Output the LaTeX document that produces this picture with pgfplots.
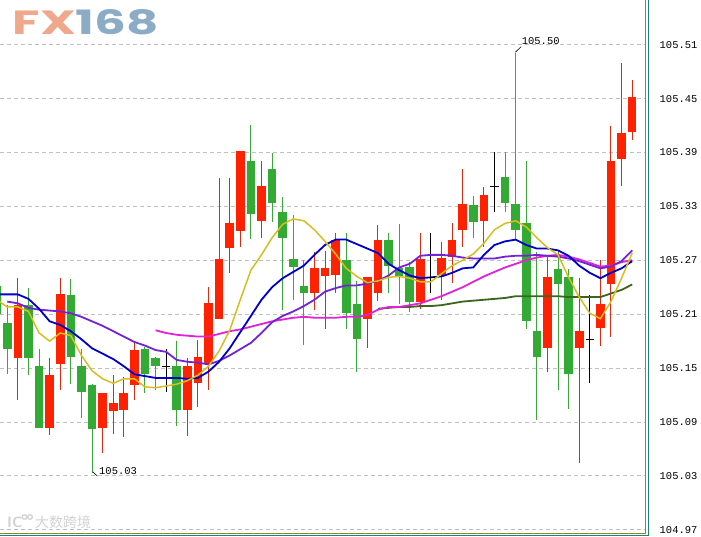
\documentclass[border=0pt]{standalone}
\usepackage{pgfplots}
\pgfplotsset{compat=1.18}
\usepackage{pgfplotstable}
\usepackage{fontspec}
\setmainfont{Liberation Sans}
\newfontfamily\monofont{Liberation Mono}
\newfontfamily\logofont{Poppins}
\newfontfamily\cjk{Noto Sans CJK SC}

\definecolor{redbody}{RGB}{255,34,0}
\definecolor{redwick}{RGB}{215,45,20}
\definecolor{greenbody}{RGB}{51,170,51}
\definecolor{greenwick}{RGB}{60,165,60}
\definecolor{maBlue}{RGB}{0,0,200}
\definecolor{maYellow}{RGB}{215,190,30}
\definecolor{maPurple}{RGB}{115,35,210}
\definecolor{maMagenta}{RGB}{225,35,215}
\definecolor{maDkgreen}{RGB}{60,100,30}
\definecolor{gridgray}{RGB}{192,192,192}
\definecolor{borderolive}{RGB}{140,135,40}
\definecolor{borderteal}{RGB}{30,130,120}
\definecolor{logoSalmon}{RGB}{240,168,140}
\definecolor{logoBlue}{RGB}{140,172,198}

% x o h l c
\pgfplotstableread{
x o h l c
2 105.163 105.251 105.115 105.222
5 105.084 105.162 105.076 105.143
6 105.154 105.251 105.126 105.232
10 105.084 105.123 105.056 105.123
11 105.104 105.142 105.076 105.113
12 105.104 105.142 105.075 105.123
13 105.133 105.180 105.115 105.172
18 105.104 105.162 105.075 105.153
19 105.134 105.182 105.107 105.163
20 105.154 105.241 105.126 105.222
21 105.205 105.362 105.205 105.272
22 105.285 105.362 105.256 105.313
23 105.303 105.392 105.285 105.392
25 105.314 105.382 105.296 105.353
30 105.234 105.281 105.216 105.262
31 105.254 105.281 105.195 105.262
32 105.254 105.301 105.234 105.293
35 105.205 105.252 105.173 105.252
36 105.234 105.311 105.226 105.293
40 105.224 105.301 105.216 105.272
42 105.254 105.291 105.226 105.272
43 105.274 105.311 105.245 105.293
44 105.304 105.372 105.285 105.333
46 105.314 105.352 105.285 105.343
52 105.173 105.276 105.146 105.252
55 105.173 105.251 105.045 105.192
57 105.195 105.271 105.175 105.222
58 105.244 105.421 105.185 105.382
59 105.383 105.491 105.354 105.412
60 105.413 105.471 105.404 105.452
}\redtab

\pgfplotstableread{
x o h l c
0 105.242 105.242 105.176 105.211
1 105.202 105.221 105.144 105.173
3 105.222 105.241 105.144 105.163
4 105.153 105.172 105.084 105.084
7 105.232 105.251 105.134 105.163
8 105.153 105.172 105.095 105.124
9 105.133 105.133 105.034 105.084
14 105.172 105.175 105.124 105.144
15 105.163 105.163 105.127 105.154
17 105.153 105.182 105.087 105.104
24 105.382 105.421 105.294 105.323
26 105.372 105.391 105.314 105.334
27 105.323 105.342 105.216 105.294
28 105.272 105.321 105.226 105.264
29 105.242 105.271 105.176 105.234
33 105.272 105.301 105.195 105.213
34 105.222 105.247 105.146 105.183
37 105.293 105.301 105.235 105.264
38 105.262 105.311 105.222 105.254
39 105.262 105.268 105.212 105.224
45 105.333 105.342 105.295 105.314
48 105.363 105.392 105.325 105.334
49 105.333 105.502 105.295 105.304
50 105.313 105.382 105.195 105.203
51 105.192 105.281 105.094 105.163
53 105.262 105.281 105.126 105.245
54 105.252 105.261 105.105 105.144
}\greentab

\pgfplotstableread{
x o h l c
16 105.152 105.172 105.124 105.152
41 105.251 105.301 105.234 105.251
47 105.352 105.392 105.325 105.352
56 105.182 105.231 105.133 105.182
}\blacktab

\pgfplotstableread{
x yel blu pur mag dkg
0 105.226 105.232 nan nan nan
1 105.218 105.232 105.224 nan nan
2 105.218 105.232 105.222 nan nan
3 105.213 105.227 105.217 nan nan
4 105.189 105.216 105.215 nan nan
5 105.180 105.202 105.214 nan nan
6 105.189 105.198 105.213 nan nan
7 105.186 105.191 105.211 nan nan
8 105.164 105.182 105.207 nan nan
9 105.147 105.172 105.202 nan nan
10 105.138 105.166 105.197 nan nan
11 105.133 105.160 105.191 nan nan
12 105.138 105.152 105.185 nan nan
13 105.138 105.143 105.179 nan nan
14 105.129 105.141 105.175 nan nan
15 105.128 105.139 105.170 105.192 nan
16 105.130 105.139 105.168 105.189 nan
17 105.132 105.139 105.159 105.187 nan
18 105.136 105.138 105.157 105.186 nan
19 105.142 105.139 105.156 105.185 nan
20 105.152 105.146 105.154 105.185 nan
21 105.169 105.157 105.158 105.188 nan
22 105.192 105.172 105.164 105.191 nan
23 105.226 105.190 105.171 105.193 nan
24 105.259 105.208 105.178 105.196 nan
25 105.276 105.226 105.189 105.199 nan
26 105.295 105.240 105.201 105.202 nan
27 105.310 105.250 105.208 105.204 nan
28 105.316 105.257 105.213 105.206 nan
29 105.314 105.264 105.219 105.207 nan
30 105.304 105.276 105.226 105.206 nan
31 105.291 105.287 105.235 105.206 nan
32 105.277 105.293 105.239 105.206 nan
33 105.261 105.293 105.242 105.207 nan
34 105.252 105.288 105.242 105.207 nan
35 105.245 105.283 105.244 105.209 nan
36 105.247 105.278 105.247 105.215 105.216
37 105.251 105.266 105.253 105.218 105.217
38 105.252 105.259 105.262 105.218 105.218
39 105.250 105.253 105.266 105.220 105.218
40 105.246 105.250 105.275 105.222 105.219
41 105.246 105.251 105.276 105.226 105.219
42 105.255 105.252 105.276 105.230 105.220
43 105.264 105.256 105.275 105.235 105.222
44 105.270 105.261 105.273 105.240 105.224
45 105.277 105.262 105.272 105.246 105.225
46 105.289 105.276 105.272 105.252 105.226
47 105.304 105.287 105.272 105.257 105.227
48 105.311 105.291 105.274 105.262 105.228
49 105.314 105.293 105.275 105.266 105.230
50 105.307 105.287 105.275 105.270 105.230
51 105.295 105.283 105.276 105.273 105.230
52 105.284 105.283 105.275 105.275 105.230
53 105.276 105.281 105.274 105.276 105.230
54 105.251 105.275 105.272 105.274 105.229
55 105.229 105.264 105.269 105.271 105.229
56 105.211 105.256 105.265 105.267 105.229
57 105.205 105.250 105.261 105.263 105.229
58 105.224 105.256 105.263 105.264 105.233
59 105.250 105.261 105.269 105.268 105.237
60 105.278 105.269 105.281 105.270 105.243
}\matab

\pgfplotsset{
  candlepart/.style 2 args={draw=none, mark=none, forget plot,
    error bars/.cd, y dir=both, y explicit, error mark=none,
    error bar style={draw=#2, line width=#1}},
}

\begin{document}
\begin{tikzpicture}
\path[use as bounding box] (0,0) rectangle (701bp,537bp);
\begin{axis}[
  at={(0,4bp)}, anchor=south west, scale only axis,
  width=645.5bp, height=533bp,
  xmin=0.3107, xmax=61.26, ymin=104.9663, ymax=105.5598,
  axis x line*=bottom, axis y line*=right,
  axis line style={draw=borderolive, line width=1bp},
  xtick=\empty,
  ytick={104.97,105.03,105.09,105.15,105.21,105.27,105.33,105.39,105.45,105.51},
  yticklabels={104.97,105.03,105.09,105.15,105.21,105.27,105.33,105.39,105.45,105.51},
  yticklabel style={font=\monofont\fontsize{10.5}{12}\selectfont, anchor=west, inner sep=0pt, xshift=14bp},
  major tick length=0pt,
  ymajorgrids,
  grid style={dash pattern=on 4bp off 3bp, draw=gridgray, line width=0.8bp},
  clip=true,
  after end axis/.code={
    \draw[borderteal, line width=1bp] ([xshift=2.6bp]rel axis cs:1,1) -- ([xshift=2.6bp,yshift=-2.8bp]rel axis cs:1,0) -- ([yshift=-2.8bp]rel axis cs:0,0);
  },
]
% wicks
\addplot[candlepart={1bp}{redwick}]
  table[x=x, y expr={(\thisrow{h}+\thisrow{l})/2}, y error expr={(\thisrow{h}-\thisrow{l})/2}] {\redtab};
\addplot[candlepart={1bp}{greenwick}]
  table[x=x, y expr={(\thisrow{h}+\thisrow{l})/2}, y error expr={(\thisrow{h}-\thisrow{l})/2}] {\greentab};
\addplot[candlepart={1bp}{black}]
  table[x=x, y expr={(\thisrow{h}+\thisrow{l})/2}, y error expr={(\thisrow{h}-\thisrow{l})/2}] {\blacktab};
% bodies
\addplot[candlepart={8.6bp}{redbody}]
  table[x=x, y expr={(\thisrow{o}+\thisrow{c})/2}, y error expr={abs(\thisrow{o}-\thisrow{c})/2}] {\redtab};
\addplot[candlepart={8.6bp}{greenbody}]
  table[x=x, y expr={(\thisrow{o}+\thisrow{c})/2}, y error expr={abs(\thisrow{o}-\thisrow{c})/2}] {\greentab};
\addplot[only marks, mark=-, mark size=4.3bp, mark options={line width=1bp, draw=black}, forget plot]
  table[x=x, y=c] {\blacktab};
% moving averages
\addplot[maDkgreen, line width=1.8bp, mark=none] table[x=x, y=dkg] {\matab};
\addplot[maMagenta, line width=1.8bp, mark=none] table[x=x, y=mag] {\matab};
\addplot[maPurple, line width=1.8bp, mark=none] table[x=x, y=pur] {\matab};
\addplot[maBlue, line width=1.8bp, mark=none] table[x=x, y=blu] {\matab};
\addplot[maYellow, line width=1.5bp, mark=none] table[x=x, y=yel] {\matab};
% extreme annotations
\draw[black, line width=0.6bp] (axis cs:48.97,105.5016) -- (axis cs:49.51,105.5078);
\node[anchor=west, inner sep=0pt, font=\monofont\fontsize{10.5}{12}\selectfont] at (axis cs:49.57,105.5145) {105.50};
\draw[black, line width=0.6bp] (axis cs:9.06,105.0345) -- (axis cs:9.50,105.0297);
\node[anchor=west, inner sep=0pt, font=\monofont\fontsize{10.5}{12}\selectfont] at (axis cs:9.66,105.0353) {105.03};
\end{axis}
% watermarks
\node[anchor=base west, inner sep=0pt] at (12.7bp,502.7bp)
  {\resizebox{146bp}{25bp}{\logofont\bfseries\textcolor{logoSalmon}{FX}\textcolor{logoBlue}{168}}};
\node[anchor=west, inner sep=0pt, text=gray!35, font=\sffamily\bfseries\fontsize{15}{15}\selectfont] at (7bp,15bp) {IC};
\draw[gray!35, line width=1.3bp] (24.5bp,20bp) circle (2.3bp) (30bp,20bp) circle (2.3bp);
\node[anchor=west, inner sep=0pt, text=gray!35, font=\cjk\fontsize{14}{14}\selectfont] at (35bp,15bp) {大数跨境};
\end{tikzpicture}
\end{document}
